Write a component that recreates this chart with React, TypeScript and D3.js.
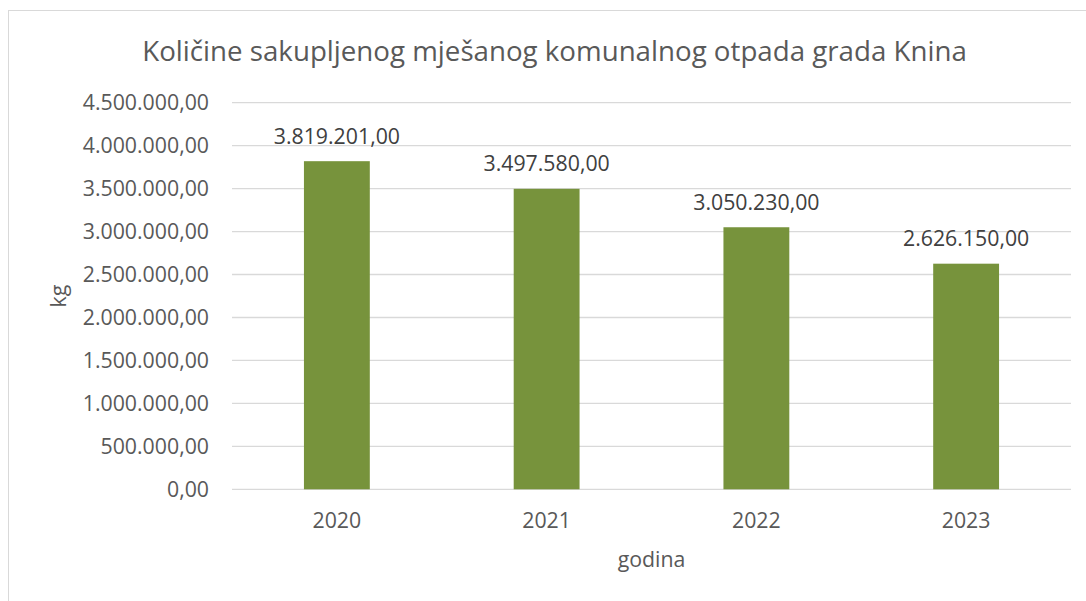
import React from "react";
import * as d3 from "d3";

const years = ["2020", "2021", "2022", "2023"];
const amounts = [3819201, 3497580, 3050230, 2626150];
const yTicks = [0, 500000, 1000000, 1500000, 2000000, 2500000, 3000000, 3500000, 4000000, 4500000];
const title = "Količine sakupljenog mješanog komunalnog otpada grada Knina";
const xTitle = "godina";
const yTitle = "kg";

const W = 1086;
const H = 601;
const plot = { left: 232, right: 1071, top: 102.7, bottom: 489.3 };
const FONT = "'Open Sans', sans-serif";

const fmt = (v: number) => {
  const [intPart, dec] = v.toFixed(2).split(".");
  return intPart.replace(/\B(?=(\d{3})+(?!\d))/g, ".") + "," + dec;
};

export default function App() {
  const x = d3.scaleBand<string>().domain(years).range([plot.left, plot.right]).paddingInner(0.686).paddingOuter(0.343);
  const y = d3.scaleLinear().domain([0, 4500000]).range([plot.bottom, plot.top]);

  return (
    <svg width={W} height={H} style={{ position: "absolute", left: 0, top: 0, background: "#fff" }}>
      <rect x={8.5} y={10.5} width={W + 20} height={H + 20} fill="#fff" stroke="#d9d9d9" strokeWidth={1} />
      <text x={554.5} y={61} textAnchor="middle" fontFamily={FONT} fontSize={27.7} fill="#595959">
        {title}
      </text>
      {yTicks.map((t) => (
        <g key={t}>
          <line x1={plot.left} x2={plot.right} y1={y(t)} y2={y(t)} stroke="#d9d9d9" strokeWidth={1.3} />
          <text x={209} y={y(t)} dy="0.36em" textAnchor="end" fontFamily={FONT} fontSize={21.3} fill="#595959">
            {fmt(t)}
          </text>
        </g>
      ))}
      {years.map((yr, i) => (
        <g key={yr}>
          <rect x={x(yr)!} y={y(amounts[i])} width={x.bandwidth()} height={plot.bottom - y(amounts[i])} fill="#77933c" />
          <text x={x(yr)! + x.bandwidth() / 2} y={y(amounts[i]) - 17.5} textAnchor="middle" fontFamily={FONT} fontSize={21.3} fill="#404040">
            {fmt(amounts[i])}
          </text>
          <text x={x(yr)! + x.bandwidth() / 2} y={528} textAnchor="middle" fontFamily={FONT} fontSize={21.3} fill="#595959">
            {yr}
          </text>
        </g>
      ))}
      <text x={(plot.left + plot.right) / 2} y={567} textAnchor="middle" fontFamily={FONT} fontSize={21.3} fill="#595959">
        {xTitle}
      </text>
      <text transform={`translate(66,${(plot.top + plot.bottom) / 2}) rotate(-90)`} textAnchor="middle" fontFamily={FONT} fontSize={21.3} fill="#595959">
        {yTitle}
      </text>
    </svg>
  );
}
